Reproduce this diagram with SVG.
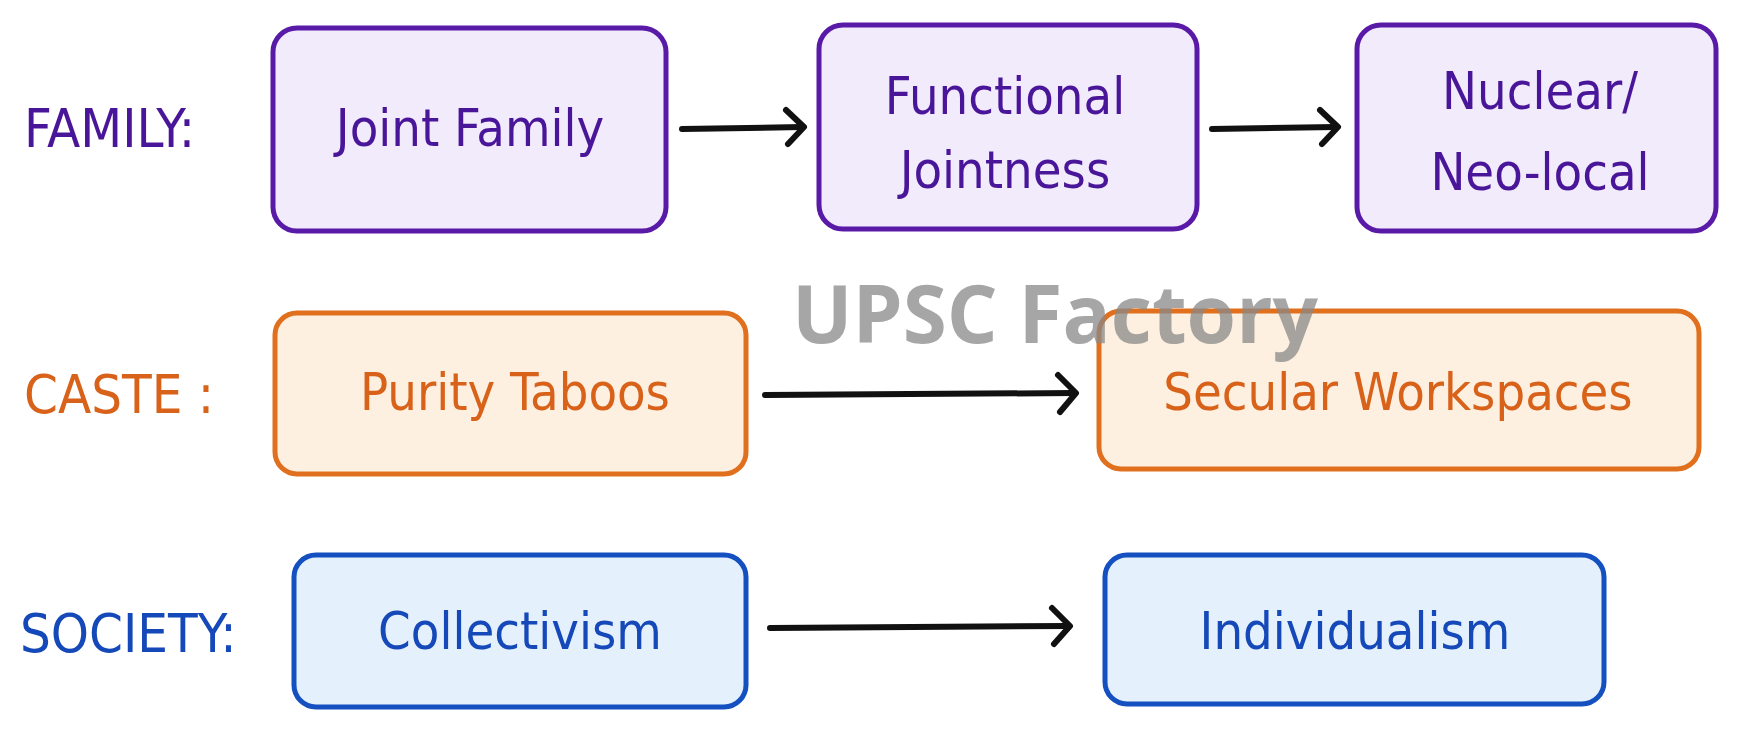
<svg xmlns="http://www.w3.org/2000/svg" width="1741" height="733" viewBox="0 0 1741 733">
<defs>
<style>
text{font-family:"DejaVu Sans Condensed","DejaVu Sans",sans-serif;text-anchor:middle;dominant-baseline:central}
.p rect{fill:#f1ebfc;stroke:#5a1aa8;stroke-width:5}
.o rect{fill:#fdf0e0;stroke:#e0701e;stroke-width:5}
.b rect{fill:#e4f0fc;stroke:#1550c0;stroke-width:5}
.p text{fill:#4a1699}.o text{fill:#d9621a}.b text{fill:#1548b8}
.n text{font-size:52px}
.lab{font-size:54px;text-anchor:start}
.c line{stroke:#111;stroke-width:6;stroke-linecap:round}
.ar{fill:none;stroke:#111;stroke-width:6;stroke-linecap:round;stroke-linejoin:round}
</style>
</defs>
<rect width="1741" height="733" fill="#fff"/>
<g class="p"><text class="lab" x="24" y="128">FAMILY:</text></g>
<g class="o"><text class="lab" x="24" y="394">CASTE :</text></g>
<g class="b"><text class="lab" x="20" y="633">SOCIETY:</text></g>
<g id="n1" class="n p"><rect x="273" y="28" width="393" height="203" rx="24"/><text x="470" y="128">Joint Family</text></g>
<g id="n2" class="n p"><rect x="819" y="25" width="378" height="204" rx="24"/><text x="1005" y="96">Functional</text><text x="1005" y="170">Jointness</text></g>
<g id="n3" class="n p"><rect x="1357" y="25" width="359" height="206" rx="24"/><text x="1540" y="91">Nuclear/</text><text x="1540" y="172">Neo-local</text></g>
<g id="n4" class="n o"><rect x="275" y="313" width="471" height="161" rx="22"/><text x="515" y="392">Purity Taboos</text></g>
<g id="n5" class="n o"><rect x="1099" y="311" width="600" height="158" rx="22"/><text x="1398" y="392">Secular Workspaces</text></g>
<g id="n6" class="n b"><rect x="294" y="555" width="452" height="152" rx="22"/><text x="520" y="631">Collectivism</text></g>
<g id="n7" class="n b"><rect x="1105" y="555" width="499" height="149" rx="22"/><text x="1355" y="631">Individualism</text></g>
<g class="c">
<line x1="682" y1="129" x2="802" y2="127"/><path class="ar" d="M786,110 L804,127 L788,144"/>
<line x1="1212" y1="129" x2="1336" y2="127"/><path class="ar" d="M1320,110 L1338,127 L1322,144"/>
<line x1="765" y1="395" x2="1074" y2="393"/><path class="ar" d="M1058,375 L1076,393 L1060,412"/>
<line x1="770" y1="628" x2="1068" y2="626"/><path class="ar" d="M1052,608 L1070,626 L1054,644"/>
</g>
<text x="1055" y="311" font-size="80" font-weight="bold" fill="#888" fill-opacity="0.75" style="font-family:'Open Sans','DejaVu Sans',sans-serif">UPSC Factory</text>
</svg>
